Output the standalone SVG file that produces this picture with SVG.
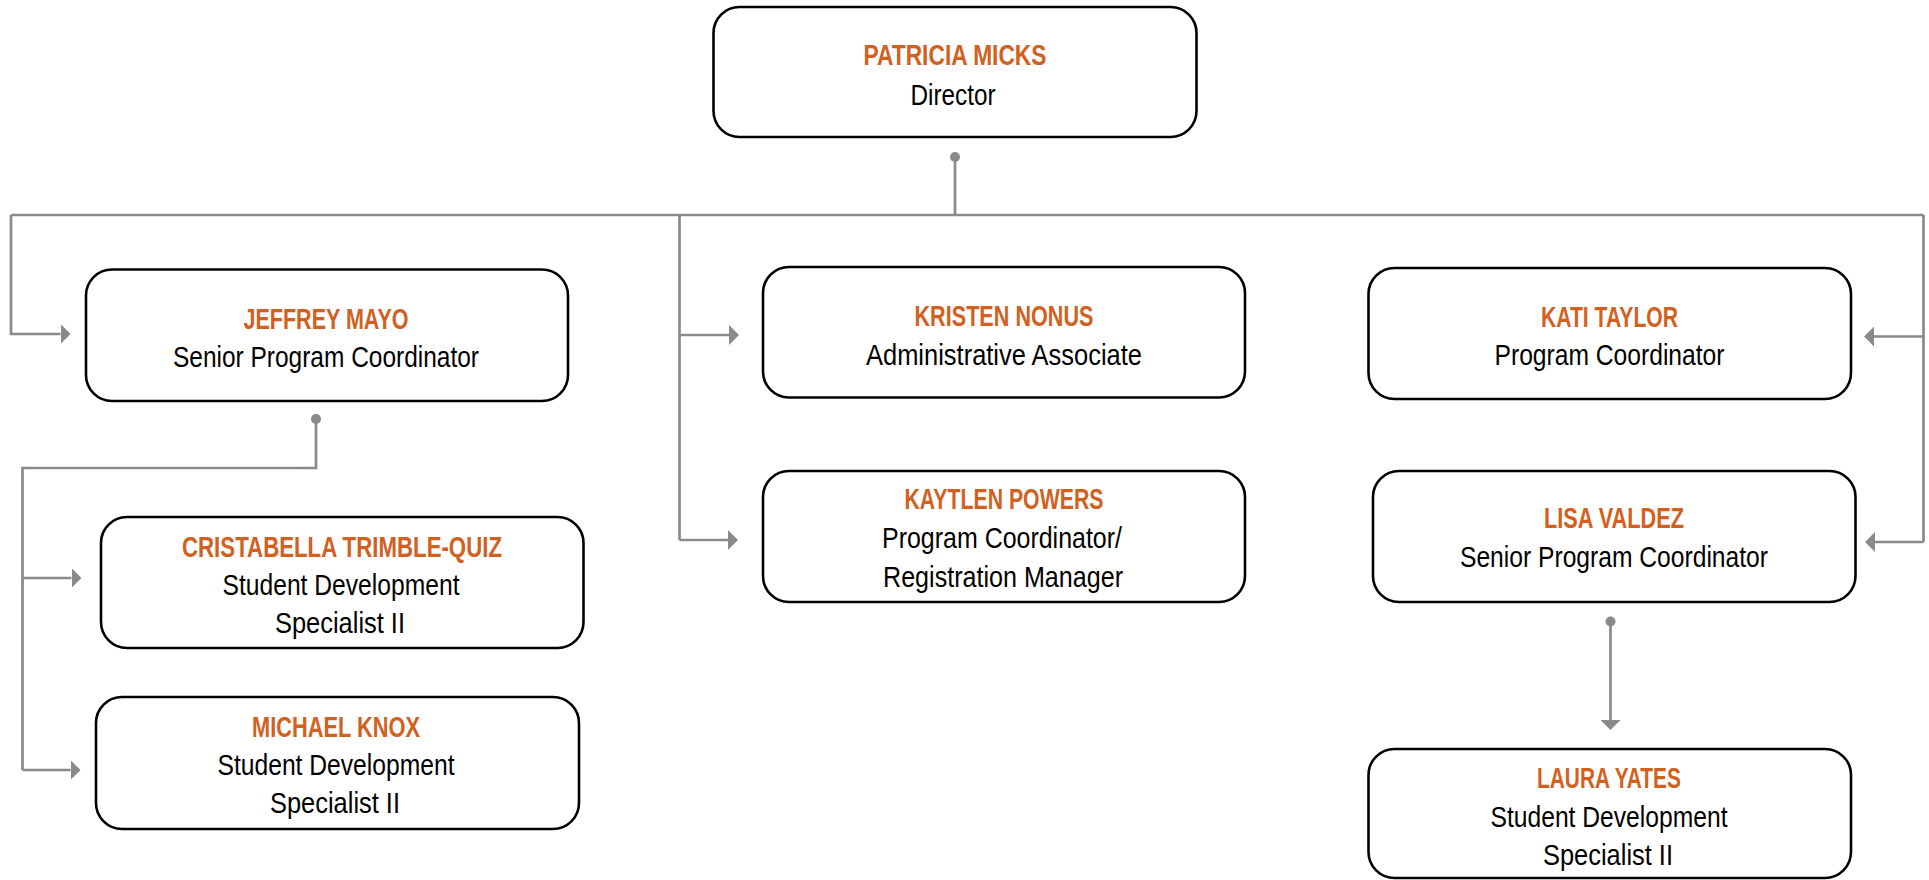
<svg xmlns="http://www.w3.org/2000/svg" width="1929" height="880" viewBox="0 0 1929 880">
  <style>
    .box { fill: #ffffff; stroke: #000000; stroke-width: 2.6; }
    .name { font-family: "Liberation Sans", Arial, sans-serif; font-weight: bold; font-size: 29px; fill: #d2601e; text-anchor: middle; }
    .title { font-family: "Liberation Sans", Arial, sans-serif; font-size: 30px; fill: #000000; text-anchor: middle; }
    .conn { fill: none; stroke: #898a8d; stroke-width: 2.7; }
    .dot { fill: #898a8d; }
  </style>
  <defs>
    <marker id="arrow" viewBox="0 0 10 20" refX="0" refY="10" markerWidth="10" markerHeight="20" markerUnits="userSpaceOnUse" orient="auto">
      <path d="M0,0 L10,10 L0,20 Z" fill="#898a8d"/>
    </marker>
  </defs>
  <rect width="1929" height="880" fill="#ffffff"/>

  <g id="connectors">
    <circle class="dot" cx="955" cy="157" r="5"/>
    <path class="conn" d="M955,157 V215"/>
    <path class="conn" d="M11,215 H1923.5"/>
    <path class="conn" d="M11,215 V334 H60.5" marker-end="url(#arrow)"/>
    <path class="conn" d="M679.5,215 V540"/>
    <path class="conn" d="M679.5,335 H729" marker-end="url(#arrow)"/>
    <path class="conn" d="M679.5,540 H728" marker-end="url(#arrow)"/>
    <path class="conn" d="M1923.5,215 V542"/>
    <path class="conn" d="M1923.5,336.5 H1874" marker-end="url(#arrow)"/>
    <path class="conn" d="M1923.5,542 H1875" marker-end="url(#arrow)"/>
    <circle class="dot" cx="316" cy="419" r="5"/>
    <path class="conn" d="M316,419 V468 H22.5 V770"/>
    <path class="conn" d="M22.5,578 H71.5" marker-end="url(#arrow)"/>
    <path class="conn" d="M22.5,770 H70.5" marker-end="url(#arrow)"/>
    <circle class="dot" cx="1610.5" cy="621.5" r="5"/>
    <path class="conn" d="M1610.5,621.5 V720" marker-end="url(#arrow)"/>
  </g>

  <g id="node-patricia">
    <rect class="box" x="713.5" y="7" width="483" height="130" rx="26"/>
    <text class="name" x="955" y="65" textLength="183" lengthAdjust="spacingAndGlyphs">PATRICIA MICKS</text>
    <text class="title" x="953" y="105" textLength="85" lengthAdjust="spacingAndGlyphs">Director</text>
  </g>

  <g id="node-jeffrey">
    <rect class="box" x="86" y="269.5" width="482" height="131.5" rx="26"/>
    <text class="name" x="326" y="328.5" textLength="165" lengthAdjust="spacingAndGlyphs">JEFFREY MAYO</text>
    <text class="title" x="326" y="366.5" textLength="306" lengthAdjust="spacingAndGlyphs">Senior Program Coordinator</text>
  </g>

  <g id="node-kristen">
    <rect class="box" x="763" y="267" width="482" height="130.5" rx="26"/>
    <text class="name" x="1004" y="326" textLength="179" lengthAdjust="spacingAndGlyphs">KRISTEN NONUS</text>
    <text class="title" x="1004" y="364.5" textLength="276" lengthAdjust="spacingAndGlyphs">Administrative Associate</text>
  </g>

  <g id="node-kati">
    <rect class="box" x="1368.5" y="268" width="482.5" height="131" rx="26"/>
    <text class="name" x="1609.5" y="327" textLength="137" lengthAdjust="spacingAndGlyphs">KATI TAYLOR</text>
    <text class="title" x="1609.5" y="365" textLength="230" lengthAdjust="spacingAndGlyphs">Program Coordinator</text>
  </g>

  <g id="node-kaytlen">
    <rect class="box" x="763" y="471" width="482" height="131" rx="26"/>
    <text class="name" x="1004" y="509" textLength="199" lengthAdjust="spacingAndGlyphs">KAYTLEN POWERS</text>
    <text class="title" x="1002" y="548" textLength="240" lengthAdjust="spacingAndGlyphs">Program Coordinator/</text>
    <text class="title" x="1003" y="587" textLength="240" lengthAdjust="spacingAndGlyphs">Registration Manager</text>
  </g>

  <g id="node-lisa">
    <rect class="box" x="1373" y="471" width="482.5" height="131" rx="26"/>
    <text class="name" x="1614" y="528" textLength="140" lengthAdjust="spacingAndGlyphs">LISA VALDEZ</text>
    <text class="title" x="1614" y="567" textLength="308" lengthAdjust="spacingAndGlyphs">Senior Program Coordinator</text>
  </g>

  <g id="node-cristabella">
    <rect class="box" x="101" y="517" width="482.5" height="131" rx="26"/>
    <text class="name" x="342" y="557" textLength="320" lengthAdjust="spacingAndGlyphs">CRISTABELLA TRIMBLE-QUIZ</text>
    <text class="title" x="341" y="595" textLength="237" lengthAdjust="spacingAndGlyphs">Student Development</text>
    <text class="title" x="340" y="633" textLength="130" lengthAdjust="spacingAndGlyphs">Specialist II</text>
  </g>

  <g id="node-michael">
    <rect class="box" x="96" y="697" width="483" height="132" rx="26"/>
    <text class="name" x="336" y="737" textLength="168" lengthAdjust="spacingAndGlyphs">MICHAEL KNOX</text>
    <text class="title" x="336" y="775" textLength="237" lengthAdjust="spacingAndGlyphs">Student Development</text>
    <text class="title" x="335" y="813" textLength="130" lengthAdjust="spacingAndGlyphs">Specialist II</text>
  </g>

  <g id="node-laura">
    <rect class="box" x="1368.5" y="749" width="482.5" height="129" rx="26"/>
    <text class="name" x="1609" y="788" textLength="144" lengthAdjust="spacingAndGlyphs">LAURA YATES</text>
    <text class="title" x="1609" y="827" textLength="237" lengthAdjust="spacingAndGlyphs">Student Development</text>
    <text class="title" x="1608" y="865" textLength="130" lengthAdjust="spacingAndGlyphs">Specialist II</text>
  </g>
</svg>
